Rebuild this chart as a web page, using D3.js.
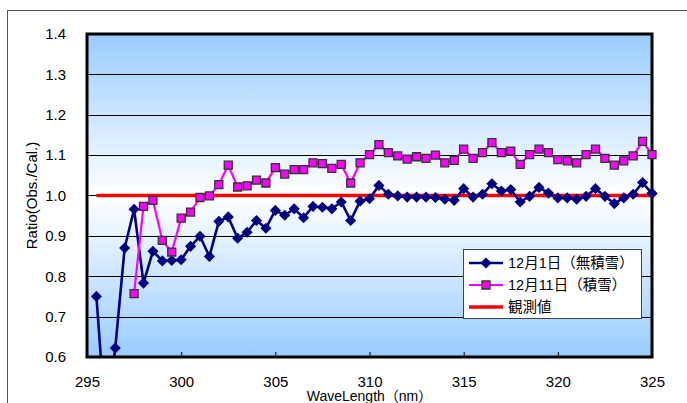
<!DOCTYPE html>
<html>
<head>
<meta charset="utf-8">
<script src="https://cdn.jsdelivr.net/npm/d3@7/dist/d3.min.js"></script>
<style>
  html, body { margin: 0; padding: 0; background: #fff; }
  svg { display: block; }
  text { font-family: "Liberation Sans", Arial, "Noto Sans CJK JP", sans-serif; fill: #000; }
</style>
</head>
<body>
<svg id="chart" width="687" height="403"></svg>
<script>
// Wavelengths (nm)
const wavelengths = [
  295.5, 296.0, 296.5, 297.0, 297.5, 298.0, 298.5, 299.0, 299.5, 300.0,
  300.5, 301.0, 301.5, 302.0, 302.5, 303.0, 303.5, 304.0, 304.5, 305.0,
  305.5, 306.0, 306.5, 307.0, 307.5, 308.0, 308.5, 309.0, 309.5, 310.0,
  310.5, 311.0, 311.5, 312.0, 312.5, 313.0, 313.5, 314.0, 314.5, 315.0,
  315.5, 316.0, 316.5, 317.0, 317.5, 318.0, 318.5, 319.0, 319.5, 320.0,
  320.5, 321.0, 321.5, 322.0, 322.5, 323.0, 323.5, 324.0, 324.5, 325.0
];

// 12月1日 (no snow cover)
const ratioDec1 = [
  0.750, 0.430, 0.622, 0.870, 0.966, 0.783, 0.862, 0.838, 0.839, 0.841,
  0.874, 0.899, 0.849, 0.936, 0.947, 0.894, 0.909, 0.938, 0.919, 0.963,
  0.951, 0.967, 0.945, 0.973, 0.971, 0.967, 0.984, 0.938, 0.986, 0.992,
  1.025, 1.003, 0.999, 0.996, 0.996, 0.996, 0.995, 0.991, 0.988, 1.017,
  0.996, 1.003, 1.029, 1.011, 1.015, 0.984, 0.998, 1.020, 1.006, 0.994,
  0.994, 0.991, 0.998, 1.017, 0.998, 0.980, 0.994, 1.003, 1.032, 1.005
];

// 12月11日 (snow cover)
const ratioDec11 = [
  null,  null,  null,  null,  0.757, 0.973, 0.988, 0.889, 0.860, 0.944,
  0.959, 0.995, 0.999, 1.027, 1.075, 1.021, 1.024, 1.038, 1.031, 1.069,
  1.053, 1.064, 1.064, 1.081, 1.079, 1.067, 1.077, 1.031, 1.081, 1.101,
  1.126, 1.106, 1.098, 1.090, 1.096, 1.092, 1.100, 1.081, 1.087, 1.115,
  1.092, 1.106, 1.131, 1.106, 1.110, 1.077, 1.101, 1.115, 1.106, 1.089,
  1.086, 1.081, 1.101, 1.115, 1.092, 1.075, 1.086, 1.098, 1.134, 1.101
];

// Observed value reference
const observed = [
  1, 1, 1, 1, 1, 1, 1, 1, 1, 1,
  1, 1, 1, 1, 1, 1, 1, 1, 1, 1,
  1, 1, 1, 1, 1, 1, 1, 1, 1, 1,
  1, 1, 1, 1, 1, 1, 1, 1, 1, 1,
  1, 1, 1, 1, 1, 1, 1, 1, 1, 1,
  1, 1, 1, 1, 1, 1, 1, 1, 1, 1
];

const xTicks = [295, 300, 305, 310, 315, 320, 325];
const yTicks = [0.6, 0.7, 0.8, 0.9, 1.0, 1.1, 1.2, 1.3, 1.4];
const seriesNames = ["12月1日（無積雪）", "12月11日（積雪）", "観測値"];
const xTitle = "WaveLength（nm）";
const yTitle = "Ratio(Obs./Cal.)";

const svg = d3.select("#chart");
const plot = { left: 87, top: 34, right: 652, bottom: 357 };

const x = d3.scaleLinear().domain([295, 325]).range([plot.left, plot.right]);
const y = d3.scaleLinear().domain([0.6, 1.4]).range([plot.bottom, plot.top]);
const inRange = v => v != null && v >= 0.6 && v <= 1.4;

// Outer chart frame
svg.append("rect")
  .attr("x", 7.5).attr("y", 10.5)
  .attr("width", 700).attr("height", 420)
  .attr("fill", "#fff").attr("stroke", "#555").attr("stroke-width", 1);

const defs = svg.append("defs");
const grad = defs.append("linearGradient")
  .attr("id", "bg").attr("x1", 0).attr("y1", 0).attr("x2", 0).attr("y2", 1);
grad.append("stop").attr("offset", "0%").attr("stop-color", "#99ccff");
grad.append("stop").attr("offset", "50%").attr("stop-color", "#ffffff");
grad.append("stop").attr("offset", "100%").attr("stop-color", "#99ccff");

defs.append("clipPath").attr("id", "clip")
  .append("rect")
  .attr("x", plot.left).attr("y", plot.top)
  .attr("width", plot.right - plot.left).attr("height", plot.bottom - plot.top);

// Plot background
svg.append("rect")
  .attr("x", plot.left).attr("y", plot.top)
  .attr("width", plot.right - plot.left).attr("height", plot.bottom - plot.top)
  .attr("fill", "url(#bg)");

// Horizontal gridlines
svg.append("g")
  .selectAll("line")
  .data(yTicks.filter(v => v > 0.6 && v < 1.4))
  .join("line")
  .attr("x1", plot.left).attr("x2", plot.right)
  .attr("y1", d => Math.round(y(d)) + 0.5).attr("y2", d => Math.round(y(d)) + 0.5)
  .attr("stroke", "#000").attr("stroke-width", 1);

// X axis: inward ticks and labels
const xAxis = svg.append("g")
  .attr("transform", `translate(0,${plot.bottom})`)
  .call(d3.axisBottom(x).tickValues(xTicks).tickFormat(d3.format("d"))
    .tickSizeInner(-5).tickSizeOuter(0).tickPadding(19));
xAxis.select(".domain").remove();
xAxis.selectAll("line").attr("stroke", "#000").attr("stroke-width", 1);
xAxis.selectAll("text").attr("font-size", 15)
  .attr("font-family", "'Liberation Sans', Arial, sans-serif").attr("fill", "#000");

// Y axis labels
const yAxis = svg.append("g")
  .attr("transform", `translate(${plot.left},0)`)
  .call(d3.axisLeft(y).tickValues(yTicks).tickFormat(d3.format(".1f"))
    .tickSize(0).tickPadding(21));
yAxis.select(".domain").remove();
yAxis.selectAll("text").attr("font-size", 15)
  .attr("font-family", "'Liberation Sans', Arial, sans-serif").attr("fill", "#000");

// Axis titles
svg.append("text")
  .attr("x", (plot.left + plot.right) / 2).attr("y", 401)
  .attr("text-anchor", "middle").attr("font-size", 14)
  .text(xTitle);

svg.append("text")
  .attr("transform", `translate(36.5,${(plot.top + plot.bottom) / 2}) rotate(-90)`)
  .attr("text-anchor", "middle").attr("font-size", 15)
  .text(yTitle);

// Series
const data = wavelengths.map((w, i) => ({ w, a: ratioDec1[i], b: ratioDec11[i], o: observed[i] }));
const lines = svg.append("g").attr("clip-path", "url(#clip)");
const markers = svg.append("g");

const lineOf = key => d3.line()
  .defined(d => d[key] != null)
  .x(d => x(d.w)).y(d => y(d[key]));

// observed reference line
lines.append("path").datum(data)
  .attr("d", lineOf("o"))
  .attr("fill", "none").attr("stroke", "#ff0000").attr("stroke-width", 3.5);

// 12月1日 line
lines.append("path").datum(data)
  .attr("d", lineOf("a"))
  .attr("fill", "none").attr("stroke", "#000080").attr("stroke-width", 2.6)
  .attr("stroke-linejoin", "round");

// 12月11日 line
lines.append("path").datum(data)
  .attr("d", lineOf("b"))
  .attr("fill", "none").attr("stroke", "#ff00ff").attr("stroke-width", 2.2)
  .attr("stroke-linejoin", "round");

// Markers sit on top and are not clipped at the frame
const diamond = d3.symbol().type(d3.symbolSquare).size(62);
const square = d3.symbol().type(d3.symbolSquare).size(64);

markers.append("g").selectAll("path")
  .data(data.filter(d => inRange(d.a)))
  .join("path")
  .attr("d", diamond)
  .attr("transform", d => `translate(${x(d.w)},${y(d.a)}) rotate(45)`)
  .attr("fill", "#000080");

// Plot frame
svg.append("rect")
  .attr("x", plot.left).attr("y", plot.top)
  .attr("width", plot.right - plot.left).attr("height", plot.bottom - plot.top)
  .attr("fill", "none").attr("stroke", "#000").attr("stroke-width", 3);

svg.append("g").selectAll("path")
  .data(data.filter(d => inRange(d.b)))
  .join("path")
  .attr("d", square)
  .attr("transform", d => `translate(${x(d.w)},${y(d.b)})`)
  .attr("fill", "#ff00ff").attr("stroke", "#333").attr("stroke-width", 1.3);

// Diamonds at the right edge drawn above the frame
svg.append("g").selectAll("path")
  .data(data.filter(d => inRange(d.a) && d.w === 325))
  .join("path")
  .attr("d", diamond)
  .attr("transform", d => `translate(${x(d.w)},${y(d.a)}) rotate(45)`)
  .attr("fill", "#000080");

// Legend
const legend = svg.append("g").attr("transform", "translate(463,249)");
legend.append("rect")
  .attr("x", 0.5).attr("y", 0.5).attr("width", 178).attr("height", 69)
  .attr("fill", "#fff").attr("stroke", "#444").attr("stroke-width", 1);

const legendRows = [
  { name: seriesNames[0], color: "#000080", width: 2.6, marker: "diamond" },
  { name: seriesNames[1], color: "#ff00ff", width: 2.2, marker: "square" },
  { name: seriesNames[2], color: "#ff0000", width: 3.5, marker: null }
];
const rowY = [14, 36, 58];

legendRows.forEach((r, i) => {
  const g = legend.append("g").attr("transform", `translate(0,${rowY[i]})`);
  g.append("line").attr("x1", 6).attr("x2", 40).attr("y1", 0).attr("y2", 0)
    .attr("stroke", r.color).attr("stroke-width", r.width);
  if (r.marker === "diamond") {
    g.append("path").attr("d", diamond).attr("transform", "translate(23,0) rotate(45)")
      .attr("fill", r.color);
  } else if (r.marker === "square") {
    g.append("path").attr("d", square).attr("transform", "translate(23,0)")
      .attr("fill", r.color).attr("stroke", "#333").attr("stroke-width", 1.3);
  }
  g.append("text").attr("x", 45).attr("y", 0)
    .attr("dominant-baseline", "central")
    .attr("font-size", 14.5)
    .text(r.name);
});
</script>
</body>
</html>
